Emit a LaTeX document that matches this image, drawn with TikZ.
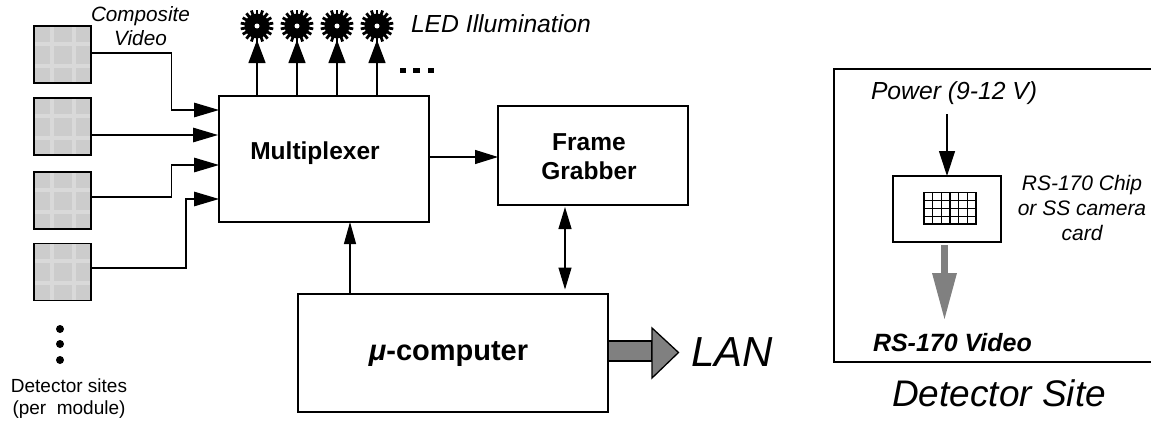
\documentclass[tikz,border=0pt]{standalone}
\usepackage{fontspec}
\setmainfont{Liberation Sans}
\usetikzlibrary{arrows.meta}
\definecolor{sitegray}{gray}{0.80}
\definecolor{bandgray}{gray}{0.85}
\definecolor{bargray}{gray}{0.5}
\tikzset{
  x=1pt,y=-1pt,
  every node/.style={inner sep=0pt,outer sep=0pt,align=center},
  blockbox/.style={draw=black,line width=1.4pt,fill=white,anchor=north west},
  sitebox/.style={draw=black,line width=1.7pt,minimum width=57pt,minimum height=57pt},
  wire/.style={line width=1.3pt,-{Triangle[length=25pt,width=14.5pt]}},
  wirethin/.style={line width=1.2pt,-{Triangle[length=23pt,width=14pt]}},
  twoway/.style={line width=1.2pt,{Triangle[length=22pt,width=13pt]}-{Triangle[length=22pt,width=13pt]}},
  ledcore/.style={circle,fill=black,minimum size=25pt},
  dotmark/.style={circle,fill=black,minimum size=8pt},
  itlab/.style={font=\fontsize{24.7}{30}\selectfont\itshape},
}
\begin{document}
\begin{tikzpicture}
\useasboundingbox (0,0) rectangle (1151,423);
% detector sites
\foreach \n/\yy in {1/54.5,2/126.5,3/200.5,4/272}{
  \begin{scope}[shift={(62.5,\yy)}]
    \fill[sitegray] (-28,-28) rectangle (28,28);
    \fill[bandgray] (-13,-28) rectangle (-9,28);
    \fill[bandgray] (9,-28) rectangle (13,28);
    \fill[bandgray] (-28,-13) rectangle (28,-9);
    \fill[bandgray] (-28,9) rectangle (28,13);
  \end{scope}
  \node[sitebox] (s\n) at (62.5,\yy) {};
}
\node[dotmark] (d1) at (60,329) {};
\node[dotmark] (d2) at (60,344) {};
\node[dotmark] (d3) at (60,360) {};
\node[font=\fontsize{19}{22}\selectfont] (sitelab) at (69,399) {Detector sites\\(per\ \ module)};
\node[font=\fontsize{20.7}{24}\selectfont\itshape] (cv) at (140.5,26) {Composite\\Video};
% main blocks
\node[blockbox,minimum width=210pt,minimum height=126pt] (mux) at (219,96) {};
\node[font=\fontsize{24.5}{28}\selectfont\bfseries] (muxlab) at (315,153) {Multiplexer};
\node[blockbox,minimum width=190pt,minimum height=99pt] (fg) at (498,106) {};
\node[font=\fontsize{24.5}{29}\selectfont\bfseries] (fglab) at (589,157) {Frame\\Grabber};
\node[blockbox,minimum width=310pt,minimum height=118pt] (pc) at (298,294) {};
\node[font=\fontsize{29}{33}\selectfont\bfseries] (pclab) at (448.5,354) {\itshape μ\upshape -computer};
% connectors into multiplexer
\coordinate (m1) at (219,110);
\coordinate (m2) at (218,135);
\coordinate (m3) at (219,165);
\coordinate (m4) at (219,199);
\draw[wire] (s1.east |- 0,53) -- (171.5,53) -- (171.5,110) -- (m1);
\draw[wire] (s2.east |- 0,135) -- (m2);
\draw[wire] (s3.east |- 0,197) -- (171.5,197) -- (171.5,165) -- (m3);
\draw[wire] (s4.east |- 0,268) -- (186,268) -- (186,199) -- (m4);
% LEDs
\foreach \n/\xx in {1/257,2/297,3/337,4/377}{
  \node[ledcore] (led\n) at (\xx,26) {};
  \foreach \a in {0,20,...,340}{
    \draw[line width=2.8pt] (led\n.center) -- ++(\a+10:16.5);
  }
  \draw[line width=1.3pt,-{Triangle[length=23pt,width=17pt]}] (\xx,96) -- (\xx,40);
  \node[circle,fill=white,minimum size=5pt] (ledc\n) at (\xx,26) {};
}
\foreach \n/\xx in {1/403,2/416.5,3/431}{
  \node[fill=black,minimum width=6.5pt,minimum height=5pt] (el\n) at (\xx,70.5) {};
}
\node[itlab,anchor=west] (ledlab) at (411,24) {LED Illumination};
% other connectors
\draw[wirethin] (mux.east |- 0,157) -- (fg.west |- 0,157);
\draw[twoway] (565,207) coordinate (fa) -- (565,289.5) coordinate (pa);
\draw[line width=1.2pt,-{Triangle[length=22pt,width=12pt]}] (350,294) -- (350,222);
% LAN arrow
\draw[draw=black,line width=1.3pt,fill=bargray] (608,341) rectangle (652,361);
\draw[draw=black,line width=1.3pt,fill=bargray] (652,328) -- (678.5,352.5) -- (652,378) -- cycle;
\node[font=\fontsize{42}{46}\selectfont\itshape,anchor=west] (lan) at (691,352) {LAN};
% detector site panel
\draw[line width=1.4pt] (1152,69) -- (834,69) -- (834,362) -- (1152,362);
\node[itlab,anchor=west] (pw) at (871,93) {Power (9-12 V)};
\node[blockbox,minimum width=108pt,minimum height=66pt] (chip) at (893,176) {};
\draw[line width=1.2pt,-{Triangle[length=25pt,width=16pt]}] (947,114) -- (chip.north -| 947,0);
\foreach \i in {1,...,5}{
  \draw[line width=1.1pt] (924+\i*8.67,192.5) -- (924+\i*8.67,224);
}
\foreach \j in {1,2,3}{
  \draw[line width=1.1pt] (924,192.5+\j*7.9) -- (976,192.5+\j*7.9);
}
\draw[line width=1.5pt] (924,192.5) rectangle (976,224);
\node[font=\fontsize{21}{25}\selectfont\itshape] (chiplab) at (1082,208) {RS-170 Chip\\or SS camera\\card};
\fill[bargray] (941,245) rectangle (948,274);
\fill[bargray] (932,273) -- (957,273) -- (944.5,319) -- cycle;
\node[font=\fontsize{25}{30}\selectfont\bfseries\itshape,anchor=west] (vid) at (873,343) {RS-170 Video};
\node[font=\fontsize{37}{42}\selectfont\itshape] (ds) at (999,393) {Detector Site};
\end{tikzpicture}
\end{document}
